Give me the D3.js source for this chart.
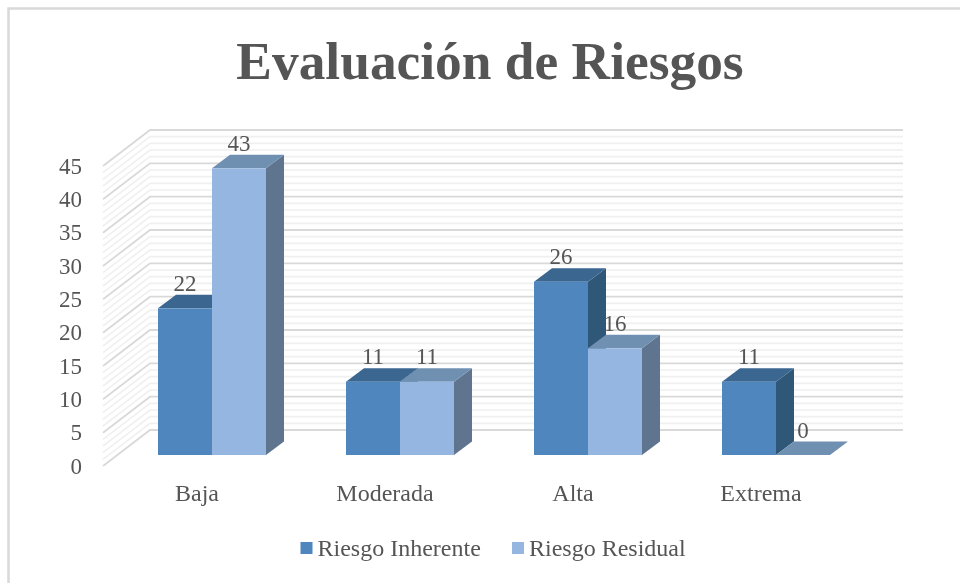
<!DOCTYPE html>
<html>
<head>
<meta charset="utf-8">
<script src="https://cdn.jsdelivr.net/npm/d3@7"></script>
<style>
  html, body { margin: 0; padding: 0; background: #fff; }
  svg { display: block; filter: blur(0.6px); }
  text { font-family: "Liberation Serif", serif; fill: #555; }
</style>
</head>
<body>
<svg id="canvas" width="960" height="583"></svg>
<script>
let categories = ['Baja', 'Moderada', 'Alta', 'Extrema']
let seriesNames = ['Riesgo Inherente', 'Riesgo Residual']
let inherente = [22, 11, 26, 11]
let residual = [43, 11, 16, 0]
let yTicks = [0, 5, 10, 15, 20, 25, 30, 35, 40, 45]
let minorTicks = d3.range(0, 46)

// front, top, side colours for each series
let faceColors = [
  {front: '#4f86bd', top: '#3a6690', side: '#2f5878'},
  {front: '#95b6e0', top: '#7090b2', side: '#5f758f'}
]

let canvas = d3.select('#canvas')

// wall depth, and how much a bar goes back
let wallDx = 47, wallDy = 36
let barDx = 18, barDy = 13.5
let floorOffset = 25 // bar base sits this far below the back wall's zero line

let y = d3.scaleLinear().domain([0, 45]).range([430, 130])
let x = d3.scaleBand().domain(categories).range([118, 870]).paddingInner(80 / 188).paddingOuter(40 / 188)
let xSeries = d3.scaleBand().domain([0, 1]).range([0, x.bandwidth()])

// chart frame, only top and left show in the crop
canvas.append('path')
  .attr('d', 'M8.5,583V8.5H960')
  .attr('fill', 'none')
  .attr('stroke', '#d9d9d9')
  .attr('stroke-width', 2.5)

canvas.append('text')
  .attr('x', 490)
  .attr('y', 79)
  .attr('text-anchor', 'middle')
  .style('font-size', '53.4px')
  .style('font-weight', 'bold')
  .text('Evaluación de Riesgos')

// minor lines first, then major over them
let drawGrid = (ticks, color, width) => {
  let g = canvas.append('g')
    .attr('fill', 'none')
    .attr('stroke', color)
    .attr('stroke-width', width)
  g.selectAll('path')
    .data(ticks)
    .enter()
    .append('path')
    .attr('d', (v) => `M${150 - wallDx},${y(v) + wallDy}L150,${y(v)}H903`)
}
drawGrid(minorTicks.filter((v) => v % 5 !== 0), '#f0f0f0', 1.6)
drawGrid(yTicks, '#d9d9d9', 1.8)

// axis tick labels sit on the front edge of the wall
canvas.append('g')
  .selectAll('text')
  .data(yTicks)
  .enter()
  .append('text')
  .attr('x', 82)
  .attr('y', (v) => y(v) + wallDy + 7.5)
  .attr('text-anchor', 'end')
  .style('font-size', '23px')
  .text((v) => v)

canvas.append('g')
  .selectAll('text')
  .data(categories)
  .enter()
  .append('text')
  .attr('x', (c) => x(c) + x.bandwidth() / 2 - 15)
  .attr('y', 501)
  .attr('text-anchor', 'middle')
  .style('font-size', '24px')
  .text((c) => c)

// bars, one series at a time so the lighter one covers the darker side
let seriesValues = [inherente, residual]
seriesValues.forEach((values, s) => {
  let colors = faceColors[s]
  let bars = canvas.append('g')
    .selectAll('g')
    .data(values.map((value, i) => ({value: value, category: categories[i]})))
    .enter()
    .append('g')

  let left = (d) => x(d.category) + xSeries(s)
  let right = (d) => left(d) + xSeries.bandwidth()
  let top = (d) => y(d.value) + floorOffset
  let base = y(0) + floorOffset

  bars.append('path')
    .attr('fill', colors.side)
    .attr('d', (d) => `M${right(d)},${base}L${right(d) + barDx},${base - barDy}V${top(d) - barDy}L${right(d)},${top(d)}Z`)
  bars.append('path')
    .attr('fill', colors.top)
    .attr('d', (d) => `M${left(d)},${top(d)}L${left(d) + barDx},${top(d) - barDy}H${right(d) + barDx}L${right(d)},${top(d)}Z`)
  bars.append('rect')
    .attr('fill', colors.front)
    .attr('x', left)
    .attr('y', top)
    .attr('width', xSeries.bandwidth())
    .attr('height', (d) => base - top(d))
})

// data labels go above so nothing hides them
seriesValues.forEach((values, s) => {
  canvas.append('g')
    .selectAll('text')
    .data(values.map((value, i) => ({value: value, category: categories[i]})))
    .enter()
    .append('text')
    .attr('x', (d) => x(d.category) + xSeries(s) + xSeries.bandwidth() / 2)
    .attr('y', (d) => y(d.value) + floorOffset - barDy - 4)
    .attr('text-anchor', 'middle')
    .style('font-size', '23px')
    .text((d) => d.value)
})

let legendX = [300.5, 512]
let legend = canvas.append('g')
  .selectAll('g')
  .data(seriesNames)
  .enter()
  .append('g')
legend.append('rect')
  .attr('x', (d, i) => legendX[i])
  .attr('y', 542)
  .attr('width', 12)
  .attr('height', 12)
  .attr('fill', (d, i) => faceColors[i].front)
legend.append('text')
  .attr('x', (d, i) => legendX[i] + 17)
  .attr('y', 556)
  .style('font-size', '24px')
  .text((d) => d)
</script>
</body>
</html>
